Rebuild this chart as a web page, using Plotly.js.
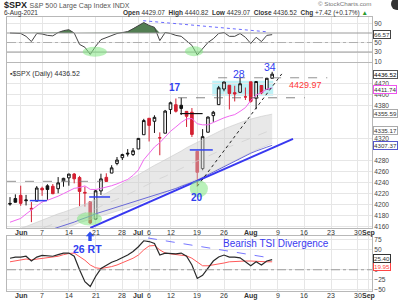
<!DOCTYPE html>
<html><head><meta charset="utf-8">
<script src="https://cdn.plot.ly/plotly-3.0.1.min.js"></script>
<style>html,body{margin:0;padding:0;background:#fff}#chart{width:398px;height:300px}</style>
</head><body><div id="chart"></div>
<script>
// ---------- DATA ----------
const dates = ['2021-05-27','2021-05-28','2021-06-01','2021-06-02','2021-06-03','2021-06-04','2021-06-07','2021-06-08','2021-06-09','2021-06-10','2021-06-11','2021-06-14','2021-06-15','2021-06-16','2021-06-17','2021-06-18','2021-06-21','2021-06-22','2021-06-23','2021-06-24','2021-06-25','2021-06-28','2021-06-29','2021-06-30','2021-07-01','2021-07-02','2021-07-06','2021-07-07','2021-07-08','2021-07-09','2021-07-12','2021-07-13','2021-07-14','2021-07-15','2021-07-16','2021-07-19','2021-07-20','2021-07-21','2021-07-22','2021-07-23','2021-07-26','2021-07-27','2021-07-28','2021-07-29','2021-07-30','2021-08-02','2021-08-03','2021-08-04','2021-08-05','2021-08-06','2021-08-09','2021-08-10','2021-08-11','2021-08-12','2021-08-13','2021-08-16','2021-08-17','2021-08-18','2021-08-19','2021-08-20','2021-08-23','2021-08-24','2021-08-25','2021-08-26','2021-08-27','2021-08-30','2021-08-31','2021-09-01','2021-09-02','2021-09-03'];
const prevClose = 4195.99;
const opens  = [4201.94,4210.77,4216.52,4206.82,4191.43,4206.05,4229.34,4233.81,4232.99,4228.56,4242.90,4248.31,4255.28,4248.87,4220.37,4204.78,4173.40,4224.61,4249.27,4256.97,4274.45,4284.90,4293.21,4290.65,4300.73,4326.60,4356.46,4351.01,4321.07,4329.38,4372.41,4381.07,4380.11,4369.02,4367.43,4296.40,4265.11,4331.13,4361.27,4381.20,4409.58,4416.38,4402.95,4403.59,4395.12,4422.68,4392.74,4415.95,4408.86,4429.07];
const highs  = [4213.38,4218.36,4234.12,4217.37,4204.39,4233.45,4232.34,4236.74,4237.09,4249.74,4248.38,4255.59,4257.16,4251.89,4232.29,4204.78,4226.24,4255.84,4256.60,4271.28,4286.12,4292.14,4300.52,4302.43,4320.66,4355.43,4356.46,4361.88,4330.88,4371.60,4386.68,4392.37,4393.68,4369.02,4375.09,4296.40,4336.84,4359.70,4369.87,4415.18,4422.73,4416.38,4415.47,4429.97,4412.25,4422.68,4423.79,4416.17,4429.76,4440.82];
const lows   = [4197.78,4203.57,4197.59,4198.27,4167.93,4206.05,4215.66,4208.41,4218.74,4220.34,4232.25,4234.07,4238.35,4196.96,4196.05,4164.40,4173.40,4217.27,4241.43,4256.97,4271.16,4280.52,4287.04,4287.96,4300.73,4326.60,4314.37,4329.79,4289.37,4329.38,4364.03,4366.92,4362.36,4340.70,4322.53,4233.13,4262.05,4331.13,4350.06,4381.20,4405.45,4372.51,4387.01,4403.59,4389.65,4384.81,4373.00,4400.23,4408.86,4429.07];
const closes = [4200.88,4204.11,4202.04,4208.12,4192.85,4229.89,4226.52,4227.26,4219.55,4239.18,4247.44,4255.15,4246.59,4223.70,4221.86,4166.45,4224.79,4246.44,4241.84,4266.49,4280.70,4290.61,4291.80,4297.50,4319.94,4352.34,4343.54,4358.13,4320.82,4369.55,4384.63,4369.21,4374.30,4360.03,4327.16,4258.49,4323.06,4358.69,4367.48,4411.79,4422.30,4401.46,4400.64,4419.15,4395.26,4387.16,4423.15,4402.66,4429.10,4436.52];
const sma10  = [4167.77,4170.79,4174.67,4182.70,4190.42,4197.49,4204.56,4207.58,4210.72,4215.04,4219.70,4224.80,4229.26,4230.81,4233.71,4227.37,4227.20,4229.12,4231.34,4234.08,4237.40,4240.95,4245.47,4252.85,4262.66,4281.25,4293.12,4304.29,4312.19,4322.49,4332.89,4340.75,4349.00,4355.25,4355.97,4346.59,4344.54,4344.59,4349.26,4353.48,4357.25,4360.48,4363.11,4369.02,4375.83,4388.70,4398.71,4403.11,4409.27,4411.74];
const sma50  = [4128,4131,4135,4139,4142,4146,4149,4152,4155,4158,4161,4165,4168,4172,4175,4179,4183,4186,4189,4192,4195,4198,4201,4204,4207,4210,4213,4216,4220,4223,4226,4229,4233,4236,4240,4244,4249,4254,4259,4264,4269,4274,4279,4284,4289,4293,4297,4301,4304,4307.37];
const bandUpper = [4150,4154,4157,4160,4164,4168,4172,4175,4179,4183,4186,4190,4193,4196,4200,4204,4209,4215,4220,4226,4232,4238,4243,4249,4254,4260,4265,4271,4276,4281,4286,4292,4297,4303,4308,4313,4318,4323,4328,4333,4337,4341,4345,4349,4352,4355,4358,4360,4362,4364];
const bandMid   = [4135,4139,4142,4146,4150,4153,4157,4161,4165,4168,4171,4175,4178,4182,4185,4188,4192,4197,4201,4205,4210,4214,4218,4223,4228,4233,4237,4242,4247,4251,4256,4261,4265,4270,4275,4279,4283,4288,4292,4297,4301,4305,4309,4313,4317,4321,4325,4328,4332,4335];
const bandLower = [4120,4123,4127,4131,4135,4138,4142,4146,4150,4153,4156,4160,4163,4167,4170,4172,4175,4178,4181,4184,4187,4190,4193,4197,4201,4205,4209,4213,4217,4221,4225,4229,4233,4237,4241,4245,4250,4255,4260,4265,4270,4275,4280,4285,4290,4295,4299,4303,4307,4311];
const rsi = [70,70,69,63,52,69,68,65,64,71,75,77,70,46,40,25,42,56,60,64,69,71,73,79,86,92,86,82,54,71,69,65,63,54,44,24,38,50,58,69,71,63,63,69,61,48,61,52,65,66.57];
const tsi = [29,32,32,34,22,32,36,35,34,38,42,42,34,0,-30,-42,-17,3,12,19,24,30,37,46,58,73,71,66,37,42,41,40,42,34,12,-22,-14,5,22,32,37,32,32,30,20,10,20,12,22,25.4];
const tsiSignal = [20,22,24,27,25,27,28,30,32,34,38,41,42,34,24,12,5,3,5,8,12,17,22,29,37,50,60,61,50,42,40,38,36,35,29,20,10,10,12,15,17,20,21,22,22,22,21,20,20,20];
const tickDates = ['2021-06-01','2021-06-07','2021-06-14','2021-06-21','2021-06-28','2021-07-01','2021-07-06','2021-07-12','2021-07-19','2021-07-26','2021-08-02','2021-08-09','2021-08-16','2021-08-23','2021-08-30','2021-09-01'];
const tickText = ['<b>Jun</b>','7','14','21','28','<b>Jul</b>','6','12','19','26','<b>Aug</b>','9','16','23','30','<b>Sep</b>'];
const mainTicks = [4160,4180,4200,4220,4240,4260,4280,4320,4380,4400,4420];
const rsiTicks = [10,30,50,90];
const tsiTicks = [75,50,0,-25,-50];
const header = {sym:'$SPX', name:'S&amp;P 500 Large Cap Index INDX', date:'6-Aug-2021', open:'4429.07', high:'4440.82', low:'4429.07', close:'4436.52', chg:'+7.42 (+0.17%)'};

// ---------- HELPERS ----------
const di = d => dates.indexOf(d);
const xi = closes.map((_, i) => di(dates[i]));
const PX = p => (p - 7) / 365, PY = p => (291 - p) / 274;
const FONT = 'Liberation Sans, Arial, sans-serif';
const BLUE = '#3040f0';

const grp = () => ({x:[],o:[],h:[],l:[],c:[]});
const up = grp(), dn = grp();
closes.forEach((c, i) => {
  const p = i === 0 ? prevClose : closes[i-1];
  const g = c >= p ? up : dn;
  g.x.push(xi[i]); g.o.push(opens[i]); g.h.push(highs[i]); g.l.push(lows[i]); g.c.push(c);
});
const candle = (g, col) => ({type:'candlestick', x:g.x, open:g.o, high:g.h, low:g.l, close:g.c,
  xaxis:'x2', yaxis:'y2', whiskerwidth:0, hoverinfo:'skip', showlegend:false,
  increasing:{line:{color:col,width:1}, fillcolor:'#ffffff'},
  decreasing:{line:{color:col,width:1}, fillcolor:col}});

const line = (y, ax, color, width, extra) => Object.assign({type:'scatter', mode:'lines', x:xi, y,
  xaxis:'x'+ax, yaxis:'y'+ax, line:{color, width}, hoverinfo:'skip', showlegend:false}, extra||{});

const traces = [
  line(rsi.map(() => 70), '', 'rgba(0,0,0,0)', 0),
  line(rsi.map(v => Math.max(v, 70)), '', 'rgba(0,0,0,0)', 0, {fill:'tonexty', fillcolor:'#527e52'}),
  line(rsi, '', '#444', 1),
  line(bandUpper, '2', '#c9c9c9', 0.6),
  line(bandLower, '2', '#c9c9c9', 0.6, {fill:'tonexty', fillcolor:'rgba(205,205,205,0.45)'}),
  line(bandMid, '2', '#cfcfcf', 0.7, {line:{color:'#cfcfcf', width:0.7, dash:'dash'}}),
  line(sma50, '2', '#6a6ad8', 1),
  line(sma10, '2', '#f068f0', 1),
  candle(up, '#111111'),
  candle(dn, '#d42032'),
  line(tsiSignal, '3', '#ff5a5a', 1),
  line(tsi, '3', '#2a2a2a', 1.2),
];

const xr = [-0.56, 67.66];
const tickvals = tickDates.map(di);
const xa = (anchor) => ({domain:[0,1], anchor, range:xr, tickmode:'array', tickvals, ticktext:tickText,
  showticklabels:false, ticks:'', showgrid:true, gridcolor:'#e6e6e6', gridwidth:1, zeroline:false,
  showline:true, mirror:true, linecolor:'#b8b8b8', linewidth:1,
  rangeslider:{visible:false}, fixedrange:true});
const ya = (anchor, domain, range, vals) => ({domain, anchor, range, side:'right', tickmode:'array', tickvals:vals,
  ticks:'', showgrid:true, gridcolor:'#e6e6e6', zeroline:false, showline:true, mirror:true,
  linecolor:'#b8b8b8', linewidth:1, tickfont:{size:6.6, color:'#444'}, fixedrange:true});

const hline = (xref, yref, x0, x1, y, color, width, dash) => ({type:'line', xref, yref, x0, x1, y0:y, y1:y, line:{color, width, dash}});
const seg = (xref, yref, x0, y0, x1, y1, color, width, dash) => ({type:'line', xref, yref, x0, y0, x1, y1, line:{color, width, dash}});
const oval = (xref, yref, x0, x1, y0, y1) => ({type:'circle', xref, yref, x0, x1, y0, y1, fillcolor:'rgba(130,230,130,0.55)', line:{width:0}});

const shapes = [
  hline('x domain','y',0,1,70,'#9a9a9a',1,'solid'),
  hline('x domain','y',0,1,30,'#9a9a9a',1,'solid'),
  hline('x domain','y',0,1,50,'#a0a0a0',0.8,'dashdot'),
  oval('x','y',13.6,18.1,20,41),
  oval('x','y',32.7,36.1,21,42),
  seg('x','y',24.9,95.9,47.9,72.7,'#6a6aff',1,'dot'),
  {type:'rect', xref:'x2', yref:'y2', x0:37.8, x1:49.2, y0:4397.5, y1:4424.7, fillcolor:'rgba(110,225,235,0.45)', line:{width:0}, layer:'below'},
  hline('x2','y2',-0.56,17,4242,'#777',0.8,'dash'),
  hline('x2','y2',31.4,55.1,4393.68,'#666',0.8,'dash'),
  hline('x2','y2',38.9,59.3,4429.97,'#777',0.8,'dash'),
  hline('x2','y2',31.8,36,4365,'#111',1.2,'solid'),
  hline('x2','y2',3.7,6.9,4207,BLUE,1.5,'solid'),
  hline('x2','y2',14.8,18.7,4213.6,BLUE,1.5,'solid'),
  hline('x2','y2',33.6,37.9,4299,BLUE,1.5,'solid'),
  seg('x2','y2',15,4157.5,52.9,4319,'#3838f0',2,'solid'),
  seg('x2','y2',35,4233,50.8,4437,'#222',1,'dot'),
  oval('x2','y2',12.5,17.2,4162,4186),
  oval('x2','y2',33.6,37,4213,4244),
  hline('x3 domain','y3',0,1,0,'#888',0.8,'dashdot'),
  seg('x3','y3',25.8,80,49,29,'#7777ff',1,'dash'),
  {type:'path', xref:'paper', yref:'paper', fillcolor:'#2f50f0', line:{width:0},
   path:`M ${PX(90)} ${PY(231.5)} L ${PX(94.2)} ${PY(236.3)} L ${PX(91.7)} ${PY(236.3)} L ${PX(91.7)} ${PY(241)} L ${PX(88.3)} ${PY(241)} L ${PX(88.3)} ${PY(236.3)} L ${PX(85.8)} ${PY(236.3)} Z`},
  {type:'circle', xref:'paper', yref:'paper', x0:PX(391), x1:PX(403), y0:PY(10), y1:PY(-2), fillcolor:'#333', line:{width:0}},
];

const txt = (text, x, y, xref, yref, opts) => Object.assign({text, x, y, xref, yref, showarrow:false,
  xanchor:'center', yanchor:'middle', font:{family:FONT, size:7, color:'#333'}}, opts||{});
const box = (text, y, yref, border, opts) => txt(text, 1.0015, y, 'paper', yref, Object.assign({xanchor:'left',
  bordercolor:border, borderwidth:1, borderpad:0, bgcolor:'#fff', font:{family:FONT, size:6.2, color:'#333'}}, opts||{}));

const annotations = [
  txt(`<b>${header.sym}</b> <span style="font-size:7px;color:#555">${header.name}</span>`, PX(2), PY(4.8), 'paper','paper', {xanchor:'left', font:{family:FONT, size:9, color:'#222'}}),
  txt(header.date, PX(2), PY(13), 'paper','paper', {xanchor:'left', font:{family:FONT, size:6.5, color:'#333'}}),
  txt(`<b>Open</b> ${header.open}  <b>High</b> ${header.high}  <b>Low</b> ${header.low}  <b>Close</b> ${header.close}  <b>Chg</b> ${header.chg} <span style="color:#2a9a2a">▲</span>`,
      PX(370), PY(13), 'paper','paper', {xanchor:'right', font:{family:FONT, size:6.5, color:'#333'}}),
  txt('© StockCharts.com', PX(373), PY(3.8), 'paper','paper', {xanchor:'right', font:{family:FONT, size:6.2, color:'#777'}}),
  txt(`▪${header.sym} (Daily) ${header.close}`, PX(8), PY(74), 'paper','paper', {xanchor:'left'}),
  box('66.57', 66.57, 'y', '#444'),
  box('4436.52', 4436.52, 'y2', '#555', {font:{family:FONT, size:6.2, color:'#000'}}),
  box('4411.74', 4408.5, 'y2', '#ee55ee'),
  box('4355.59', 4366, 'y2', '#aaa'),
  box('4335.17', 4335.17, 'y2', '#aaa'),
  box('4307.37', 4307.37, 'y2', '#5555cc'),
  box('19.95', 9, 'y3', '#ff4444', {font:{family:FONT, size:6.2, color:'#ff4444'}}),
  box('25.40', 27.5, 'y3', '#333'),
  txt('<b>17</b>', 30.8, 4413, 'x2','y2', {font:{family:FONT, size:10, color:BLUE}}),
  txt('<b>20</b>', 35, 4213.5, 'x2','y2', {font:{family:FONT, size:10, color:BLUE}}),
  txt('28', 42.8, 4437, 'x2','y2', {font:{family:FONT, size:10.5, color:BLUE}}),
  txt('34', 48.6, 4450, 'x2','y2', {font:{family:FONT, size:10.5, color:BLUE}}),
  txt('4429.97', 55.3, 4417, 'x2','y2', {font:{family:FONT, size:9, color:'#ff3838'}}),
  txt('<b>26 RT</b>', PX(87), PY(248.5), 'paper','paper', {font:{family:FONT, size:10.5, color:BLUE}}),
  txt('Bearish TSI Divergence', 49.7, 67, 'x3','y3', {font:{family:FONT, size:10, color:'#3a3af0'}}),
];
tickvals.forEach((v, k) => {
  annotations.push(txt(tickText[k], v, PY(232.5), 'x2', 'paper'));
  annotations.push(txt(tickText[k], v, PY(295.5), 'x3', 'paper'));
});

const layout = {
  width:398, height:300, margin:{l:7, r:26, t:17, b:9}, paper_bgcolor:'#fff', plot_bgcolor:'#fff',
  showlegend:false, font:{family:FONT, size:7, color:'#444'}, boxmode:'overlay',
  xaxis: xa('y'),
  yaxis: ya('x', [229/274, 1], [9, 103.7], rsiTicks),
  xaxis2: xa('y2'),
  yaxis2: ya('x2', [63/274, 228/274], [4157.3, 4456.8], mainTicks),
  xaxis3: xa('y3'),
  yaxis3: ya('x3', [0, 55/274], [-53.5, 85], tsiTicks),
  shapes, annotations
};
Plotly.newPlot('chart', traces, layout, {staticPlot:true, displayModeBar:false});
</script></body></html>
